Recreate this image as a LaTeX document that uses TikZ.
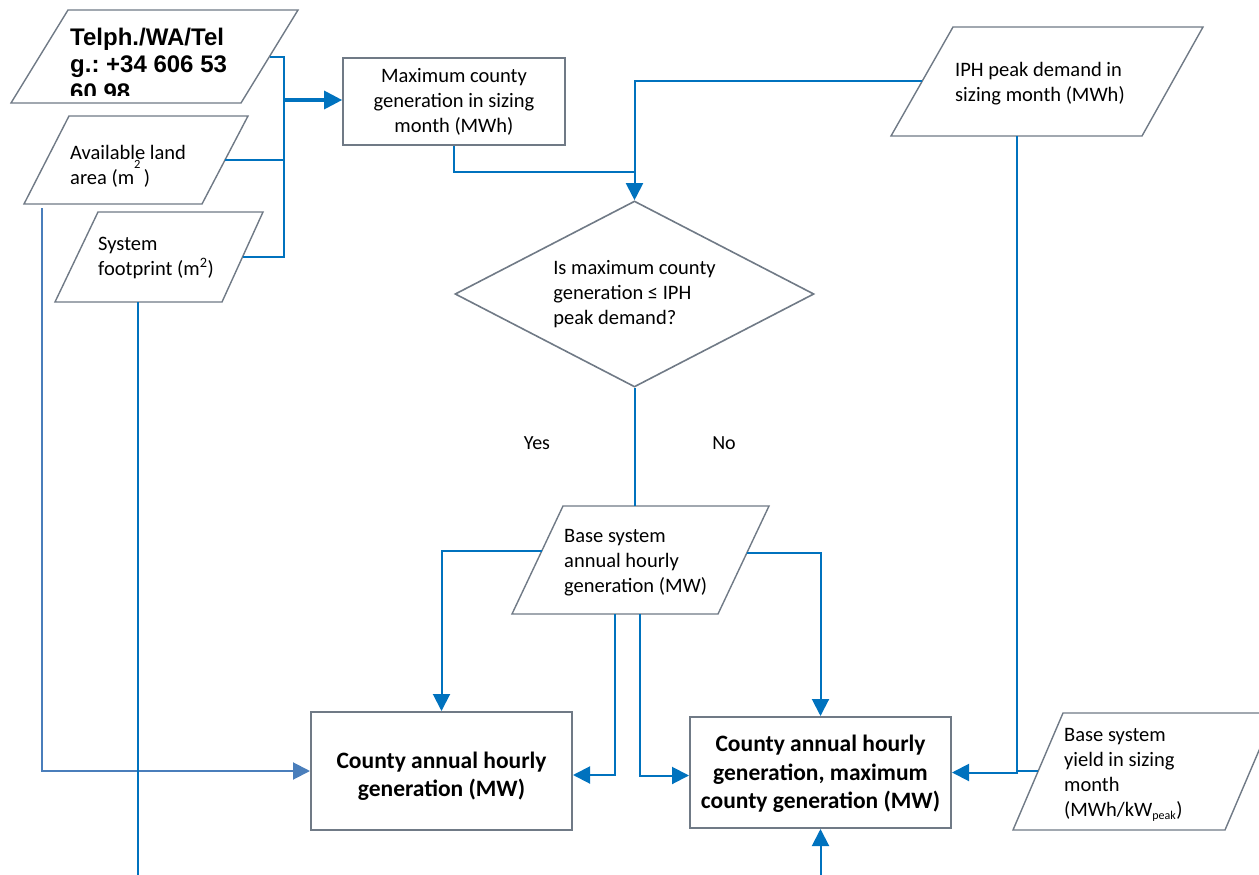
\documentclass[tikz,border=0pt]{standalone}
\usepackage{fontspec}
\setmainfont{Carlito}
\newfontfamily\arialf{Liberation Sans}
\usetikzlibrary{arrows.meta,shapes.geometric}
\definecolor{shapegray}{RGB}{112,122,134}
\definecolor{connblue}{RGB}{0,114,190}
\definecolor{steelblue}{RGB}{74,126,187}
\frenchspacing
\begin{document}
\begin{tikzpicture}[x=1pt,y=-1pt,
  outl/.style={draw=shapegray, line width=1.4pt, fill=white},
  boxn/.style={draw=shapegray, line width=1.6pt, fill=white, inner sep=0pt},
  conn/.style={draw=connblue, line width=2pt},
  arr/.style={conn, -{Triangle[length=17pt,width=17pt]}},
  txt/.style={inner sep=0pt, font=\fontsize{20.5}{25}\selectfont, align=left},
  btxt/.style={inner sep=0pt, font=\fontsize{23.5}{28.5}\selectfont\bfseries, align=center}]
\useasboundingbox (0,0) rectangle (1259,875);

% ---------- parallelograms ----------
\draw[outl] (68,10) -- (298,10) -- (241,103) -- (11,103) -- cycle;
\begin{scope}
  \clip (0,0) rectangle (400,96);
  \node[inner sep=0pt, anchor=north west, align=left,
        font=\arialf\bfseries\fontsize{24}{27.5}\selectfont] (tel) at (70,27.5)
        {Telph./WA/Tel\\g.: +34 606 53\\60 98};
\end{scope}

\draw[outl] (69,116) -- (248,116) -- (202,204) -- (24,204) -- cycle;
\node[txt, anchor=west] (avtxt) at (70,166)
  {Available land\\area (m\raisebox{16pt}{\fontsize{12.5}{12.5}\selectfont 2}\,)};

\draw[outl] (98,212) -- (263,212) -- (222,302) -- (55,302) -- cycle;
\node[txt, anchor=west] (fttxt) at (98,257.5) {System\\footprint (m\textsuperscript{2})};

\draw[outl] (953,27) -- (1203,27) -- (1142,136) -- (891,136) -- cycle;
\node[txt, anchor=west] (iphtxt) at (955,84) {IPH peak demand in\\sizing month (MWh)};

\draw[outl] (563,506) -- (769,506) -- (718,614) -- (512,614) -- cycle;
\node[txt, anchor=west] (basetxt) at (564,562.5) {Base system\\annual hourly\\generation (MW)};

\draw[outl] (1063,713) -- (1275,713) -- (1225,830) -- (1013,830) -- cycle;
\node[txt, anchor=west] (ydtxt) at (1064,775)
  {Base system\\yield in sizing\\month\\(MWh/kW\textsubscript{\fontsize{12}{12}\selectfont peak})};

% ---------- boxes and decision ----------
\node[boxn, minimum width=222pt, minimum height=87pt, txt, align=center] (maxbox) at (454,101.5)
  {Maximum county\\generation in sizing\\month (MWh)};
\node[boxn, draw=shapegray, diamond, aspect=1.93, minimum width=359pt, minimum height=186pt,
      txt] (dia) at (634.5,294)
  {Is maximum county\\generation ≤ IPH\\peak demand?};
\node[boxn, line width=2pt, minimum width=261pt, minimum height=118pt] (lbox) at (441.5,771) {};
\node[btxt] (lboxtxt) at (441.5,776) {County annual hourly\\generation (MW)};
\node[boxn, line width=2pt, minimum width=261pt, minimum height=111pt] (rbox) at (820.5,772.5) {};
\node[btxt] (rboxtxt) at (820.5,774) {County annual hourly\\generation, maximum\\county generation (MW)};

\node[txt, font=\fontsize{20}{24}\selectfont] (yes) at (537,443) {Yes};
\node[txt, font=\fontsize{20}{24}\selectfont] (no) at (724,443) {No};

% ---------- connection points ----------
\coordinate (telR) at (270,57);
\coordinate (avR) at (225,160);
\coordinate (ftR) at (242.5,257);
\coordinate (j1) at (284,100);
\coordinate (iphL) at (922,81);
\coordinate (j2) at (634.5,172);
\coordinate (baseT) at (634.5,506);
\coordinate (baseL) at (541.7,551);
\coordinate (baseR) at (746.8,553);
\coordinate (bb1) at (615,614);
\coordinate (bb2) at (640,614);
\coordinate (avB) at (42,208);
\coordinate (ftB) at (138,302);
\coordinate (ftEnd) at (138,875);
\coordinate (iphB) at (1017,136);
\coordinate (ydL) at (1038,771);
\coordinate (botEnd) at (820.5,875);

% ---------- connectors ----------
\draw[conn, line width=1.5pt] (telR) -| (j1);
\draw[conn] (avR) -- (avR -| j1);
\draw[conn] (ftR) -| (j1);
\draw[arr, line width=3pt, -{Triangle[length=18pt,width=18pt]}] (j1) -- (j1 -| maxbox.west);

\draw[conn] (maxbox.south) |- (j2);
\draw[arr] (iphL) -| (dia.north);
\draw[conn] (dia.south) -- (baseT);

\draw[arr] (baseL) -| (lbox.north);
\draw[arr] (baseR) -| (rbox.north);
\draw[arr] (bb1) |- ([yshift=-4pt]lbox.east);
\draw[arr] (bb2) |- ([yshift=-3pt]rbox.west);

\draw[arr, draw=steelblue] (avB) |- (lbox.west);
\draw[conn] (ftB) -- (ftEnd);

\draw[arr] (iphB) |- (rbox.east);
\draw[conn] (ydL) -- (iphB |- ydL);
\draw[arr] (botEnd) -- (rbox.south);
\end{tikzpicture}
\end{document}
